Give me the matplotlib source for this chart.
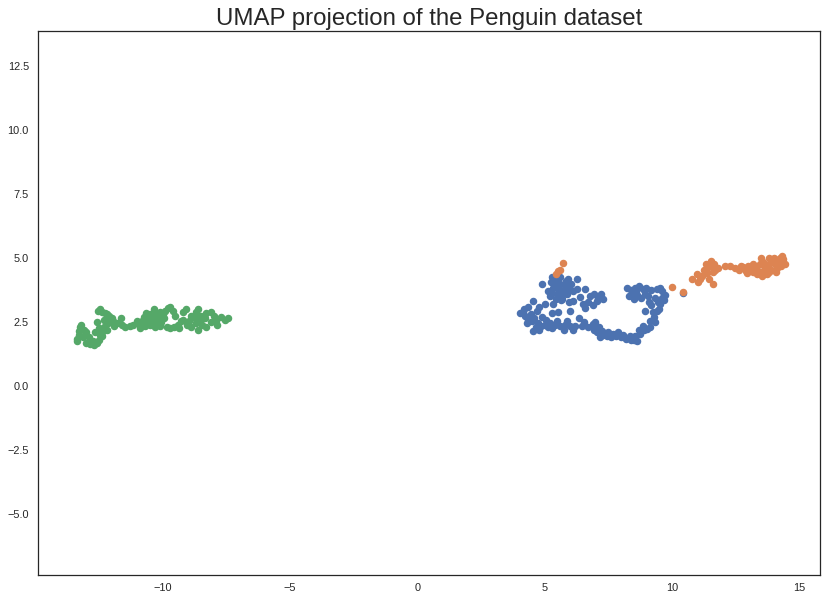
import matplotlib
matplotlib.use("Agg")
import matplotlib.pyplot as plt
import seaborn as sns

sns.set_theme(style="white")
plt.rcParams['font.family'] = ['Liberation Sans', 'DejaVu Sans']

# Adelie (blue)
adelie_x = [5.3, 5.62, 5.93, 6.29, 4.91, 5.25, 5.45, 5.6, 5.8, 5.35, 5.55, 5.75, 5.95, 5.3, 5.5, 5.7, 5.45, 5.2, 5.9, 6.29, 6.4, 6.13, 6.05, 5.65,
            4.56, 4.36, 4.17, 4.05, 4.25, 4.45, 4.6, 4.35, 4.7, 4.2, 4.5, 4.75, 4.65, 4.85, 5.0, 5.2, 5.4, 5.6, 5.8, 6.0, 6.1, 5.05, 4.9, 5.3,
            5.34, 5.7, 6.0, 5.54, 5.3,
            6.6, 6.72, 6.52, 7.07, 7.3, 6.8, 6.95, 7.1, 6.6,
            6.48, 6.92, 7.07, 7.19, 6.95, 7.0, 7.3, 7.45, 7.6, 7.8, 7.7, 8.0, 8.2, 8.35, 8.5, 8.65, 8.55, 7.9, 7.25,
            8.75, 8.9, 9.04, 9.15, 8.85,
            8.25, 8.4, 8.55, 8.7, 8.85, 9.0, 9.2, 9.4, 9.6, 9.75, 9.7, 9.55, 8.3, 8.5, 8.65, 8.8, 8.95, 9.1, 9.2, 9.35, 9.5, 8.96, 9.27, 9.35, 9.3, 9.45,
            5.15, 5.4, 5.85, 6.1, 5.0, 4.8, 4.3, 4.55, 4.8, 5.15, 5.5, 5.9, 6.2, 5.75, 6.35, 6.55, 6.7, 7.15, 7.5, 8.1, 8.4, 6.9, 7.2, 8.45,
            8.6, 9.05, 9.6, 9.15, 9.4, 9.55, 8.7, 5.95,
            10.42]
adelie_y = [4.26, 4.26, 4.18, 4.18, 3.98, 4.05, 4.1, 4.0, 3.95, 3.85, 3.8, 3.75, 3.85, 3.65, 3.6, 3.55, 3.4, 3.5, 3.6, 3.79, 3.48, 3.32, 4.0, 3.35,
            3.32, 3.09, 2.89, 2.85, 2.75, 2.8, 2.65, 2.6, 2.95, 3.0, 2.55, 2.45, 2.3, 2.35, 2.4, 2.45, 2.4, 2.35, 2.4, 2.35, 2.2, 2.6, 2.7, 2.25,
            3.2, 3.4, 2.93, 2.89, 2.85,
            3.79, 3.28, 3.2, 3.32, 3.4, 3.5, 3.6, 3.45, 3.05,
            2.34, 2.42, 2.1, 1.91, 2.2, 2.5, 2.0, 1.95, 1.9, 1.95, 2.05, 1.9, 1.85, 1.95, 1.8, 1.75, 1.95, 2.1, 2.15,
            2.05, 2.2, 2.23, 2.3, 2.35,
            3.85, 3.75, 3.85, 3.9, 3.8, 3.85, 3.75, 3.8, 3.7, 3.55, 3.35, 3.2, 3.5, 3.4, 3.55, 3.45, 3.6, 3.3, 3.15, 3.45, 3.0, 2.93, 2.89, 2.5, 2.7, 3.3,
            3.7, 3.95, 4.1, 3.7, 3.2, 3.1, 2.45, 2.15, 2.2, 2.3, 2.55, 2.55, 2.35, 2.2, 2.65, 2.5, 2.3, 2.3, 2.1, 2.0, 1.8, 3.15, 3.6, 3.6,
            3.7, 3.5, 3.45, 2.55, 2.95, 3.85, 2.2, 3.3,
            3.65]

# Chinstrap (orange)
chinstrap_x = [5.74, 5.54, 5.46, 5.6, 10.02, 10.45, 10.8, 11.0, 11.04, 11.2, 11.3, 11.4, 11.5, 11.55, 11.65, 11.7, 11.4, 11.25, 11.6, 11.8, 11.6, 11.1,
               12.3, 12.5, 12.65, 12.8, 12.9, 13.0, 13.1, 13.2, 13.3, 13.36, 13.56, 13.75, 13.45, 13.6, 13.7, 13.85, 13.95, 14.05, 14.2, 14.34, 14.38, 14.46,
               14.15, 13.9, 13.6, 13.5, 13.8, 14.3, 13.2, 12.95,
               11.45, 11.35, 12.1, 12.7, 13.0, 13.4, 13.65, 14.0, 14.25, 13.8, 14.1]
chinstrap_y = [4.8, 4.49, 4.38, 4.55, 3.87, 3.67, 4.18, 4.38, 4.06, 4.3, 4.5, 4.6, 4.7, 4.9, 4.75, 4.55, 4.4, 4.55, 4.45, 4.6, 3.98, 4.2,
               4.69, 4.6, 4.55, 4.65, 4.5, 4.7, 4.55, 4.45, 4.6, 4.38, 4.3, 4.38, 4.75, 4.85, 4.65, 4.8, 4.9, 4.75, 4.85, 5.08, 4.96, 4.75,
               4.6, 4.55, 4.5, 5.0, 5.0, 4.7, 4.75, 4.4,
               4.2, 4.75, 4.7, 4.7, 4.6, 4.5, 4.7, 5.0, 5.0, 4.45, 4.45]

# Gentoo (green)
gentoo_x = [-13.35, -13.3, -13.3, -13.25, -13.2, -13.35, -13.1, -13.15,
            -13.0, -12.85, -12.7, -12.6, -12.75, -12.5,
            -12.45, -12.35, -12.3, -12.15, -12.0, -12.4, -12.2, -12.5,
            -12.55, -12.4, -12.25, -12.1, -12.0, -12.45, -12.2, -11.95,
            -11.8, -11.6, -11.65, -11.3, -11.15,
            -10.9, -10.7, -10.5, -10.3, -10.1, -10.8, -10.6, -10.4, -10.2, -10.0, -10.75, -10.5, -10.3, -10.1, -9.9, -9.8, -10.05, -10.6,
            -9.7, -9.6, -9.5, -9.3, -9.55, -9.7, -9.4,
            -9.2, -9.05, -8.9, -8.7, -8.5, -8.3, -8.1, -8.9, -8.6, -8.45, -8.1, -7.9, -7.7, -7.55, -7.45, -8.3, -8.7,
            -13.0, -12.9, -12.65, -12.6, -12.3, -11.9, -11.5, -11.0, -10.9, -10.45, -10.25, -9.95, -9.85, -9.35, -9.2, -8.95,
            -8.75, -8.55, -8.35, -8.0, -7.85, -8.6, -9.1, -10.35, -10.65]
gentoo_y = [1.85, 2.0, 2.15, 2.3, 2.4, 1.75, 2.2, 1.9,
            1.7, 1.65, 1.6, 1.7, 1.75, 1.8,
            2.0, 2.15, 2.3, 2.45, 2.5, 1.95, 2.2, 2.25,
            2.95, 2.9, 2.85, 2.75, 2.65, 3.0, 2.8, 2.55,
            2.45, 2.4, 2.65, 2.35, 2.4,
            2.4, 2.35, 2.4, 2.3, 2.35, 2.55, 2.6, 2.65, 2.75, 2.8, 2.7, 2.8, 2.85, 2.9, 2.95, 3.05, 2.5, 2.45,
            3.1, 2.95, 2.75, 2.55, 2.3, 2.25, 2.4,
            2.6, 2.4, 2.75, 2.9, 2.75, 2.85, 2.9, 2.3, 2.2, 2.4, 2.5, 2.55, 2.7, 2.6, 2.65, 2.3, 2.45,
            2.1, 1.9, 2.1, 2.5, 2.6, 2.35, 2.3, 2.55, 2.25, 2.55, 2.55, 2.65, 2.3, 2.25, 2.9, 2.55,
            2.65, 2.55, 2.65, 2.75, 2.4, 3.0, 3.0, 3.0, 2.85]

pal = sns.color_palette("deep")

fig = plt.figure(figsize=(826 / 72, 601 / 72), dpi=72)
ax = fig.add_axes([38 / 826, 26 / 601, 782 / 826, 544 / 601])
ax.scatter(adelie_x, adelie_y, color=pal[0], s=36, linewidths=1.5)
ax.scatter(chinstrap_x, chinstrap_y, color=pal[1], s=36, linewidths=1.5)
ax.scatter(gentoo_x, gentoo_y, color=pal[2], s=36, linewidths=1.5)

ax.set_xlim(-14.9, 15.82)
ax.set_ylim(-7.38, 13.87)
ax.set_xticks([-10, -5, 0, 5, 10, 15])
ax.set_yticks([-5.0, -2.5, 0.0, 2.5, 5.0, 7.5, 10.0, 12.5])
ax.tick_params(axis='both', length=0, labelsize=11, colors='.15')
ax.tick_params(axis='x', pad=8)
ax.tick_params(axis='y', pad=9)
for sp in ax.spines.values():
    sp.set_color('.15')
    sp.set_linewidth(1.25)
ax.set_title('UMAP projection of the Penguin dataset', fontsize=24, color='.15', pad=6)

fig.savefig('out.png', dpi=72)
